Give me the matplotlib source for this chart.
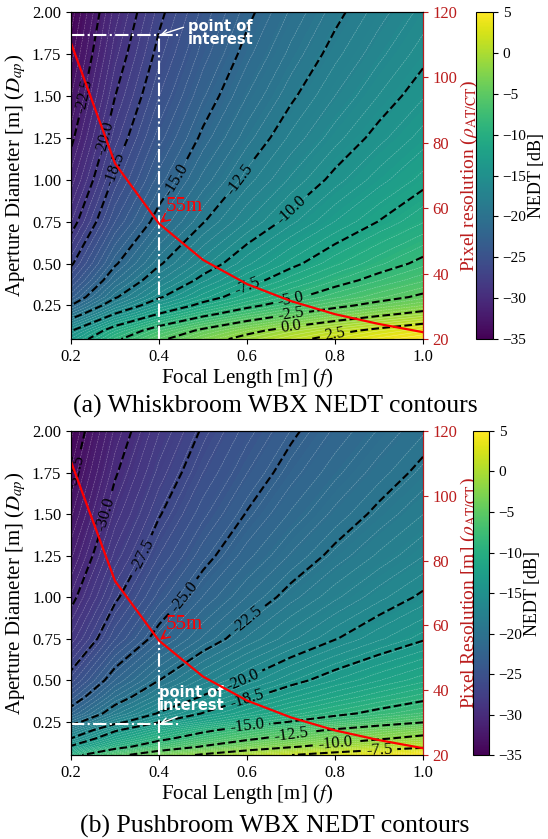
import numpy as np
import matplotlib
matplotlib.use("Agg")
import matplotlib.pyplot as plt
from matplotlib import cm, colors

plt.rcParams['font.family'] = 'Liberation Serif'
plt.rcParams['mathtext.fontset'] = 'stix'

############## Data ##############

focal = [0.2, 0.3, 0.4, 0.5, 0.6, 0.7, 0.8, 0.9, 1.0]
aperture = [0.05, 0.1, 0.15, 0.2, 0.25, 0.3, 0.4, 0.5, 0.75, 1.0, 1.25, 1.5, 1.75, 2.0]

# pixel resolution [m] along focal length
pix_res = [110.5, 73.7, 55.3, 44.2, 36.8, 31.6, 27.6, 24.6, 22.1]

# NEDT [dB]; rows follow aperture, columns follow focal
nedt_whisk = [
    [-8.88, -5.36, -2.86, -0.92, 0.66, 2.00, 3.16, 4.18, 5.10],
    [-10.08, -6.56, -4.06, -2.12, -0.54, 0.80, 1.96, 2.98, 3.90],
    [-11.78, -8.26, -5.76, -3.82, -2.24, -0.90, 0.26, 1.28, 2.20],
    [-13.48, -9.96, -7.46, -5.52, -3.94, -2.60, -1.44, -0.42, 0.50],
    [-14.98, -11.46, -8.96, -7.02, -5.44, -4.10, -2.94, -1.92, -1.00],
    [-16.18, -12.66, -10.16, -8.22, -6.64, -5.30, -4.14, -3.12, -2.20],
    [-17.58, -14.06, -11.56, -9.62, -8.04, -6.70, -5.54, -4.52, -3.60],
    [-18.68, -15.16, -12.66, -10.72, -9.14, -7.80, -6.64, -5.62, -4.70],
    [-20.53, -17.01, -14.51, -12.57, -10.99, -9.65, -8.49, -7.47, -6.55],
    [-21.78, -18.26, -15.76, -13.82, -12.24, -10.90, -9.74, -8.72, -7.80],
    [-22.75, -19.23, -16.73, -14.79, -13.21, -11.87, -10.71, -9.69, -8.77],
    [-23.54, -20.02, -17.52, -15.58, -14.00, -12.66, -11.50, -10.48, -9.56],
    [-24.21, -20.69, -18.19, -16.25, -14.67, -13.33, -12.17, -11.15, -10.23],
    [-24.79, -21.27, -18.77, -16.83, -15.25, -13.91, -12.75, -11.73, -10.81],
]

nedt_push = [
    [-15.68, -13.04, -11.17, -9.72, -8.53, -7.52, -6.65, -5.89, -5.20],
    [-18.33, -15.69, -13.82, -12.37, -11.18, -10.17, -9.30, -8.54, -7.85],
    [-19.99, -17.35, -15.48, -14.03, -12.84, -11.83, -10.96, -10.20, -9.51],
    [-21.34, -18.70, -16.83, -15.38, -14.19, -13.18, -12.31, -11.55, -10.86],
    [-23.11, -20.47, -18.60, -17.15, -15.96, -14.95, -14.08, -13.32, -12.63],
    [-24.40, -21.76, -19.89, -18.44, -17.25, -16.24, -15.37, -14.61, -13.92],
    [-25.85, -23.21, -21.34, -19.89, -18.70, -17.69, -16.82, -16.06, -15.37],
    [-27.02, -24.38, -22.51, -21.06, -19.87, -18.86, -17.99, -17.23, -16.54],
    [-29.08, -26.44, -24.57, -23.12, -21.93, -20.92, -20.05, -19.29, -18.60],
    [-30.33, -27.69, -25.82, -24.37, -23.18, -22.17, -21.30, -20.54, -19.85],
    [-31.30, -28.66, -26.79, -25.34, -24.15, -23.14, -22.27, -21.51, -20.82],
    [-32.09, -29.45, -27.58, -26.13, -24.94, -23.93, -23.06, -22.30, -21.61],
    [-32.76, -30.12, -28.25, -26.80, -25.61, -24.60, -23.73, -22.97, -22.28],
    [-33.34, -30.70, -28.83, -27.38, -26.19, -25.18, -24.31, -23.55, -22.86],
]

levels_whisk = [-22.5, -20.0, -18.5, -15.0, -12.5, -10.0, -7.5, -5.0, -2.5, 0.0, 2.5]
levels_push = [-32.5, -30.0, -27.5, -25.0, -22.5, -20.0, -18.5, -15.0, -12.5, -10.0, -7.5]

# where the inline labels sit (focal, aperture), one per level
labels_whisk = [(0.227, 1.55), (0.285, 1.33), (0.30, 1.07), (0.45, 1.05), (0.58, 1.04),
                (0.69, 0.84), (0.61, 0.37), (0.70, 0.29), (0.70, 0.20), (0.70, 0.12),
                (0.80, 0.08)]
labels_push = [(0.21, 1.88), (0.285, 1.56), (0.368, 1.32), (0.48, 1.06), (0.59, 0.84),
               (0.584, 0.50), (0.59, 0.38), (0.596, 0.23), (0.694, 0.175), (0.792, 0.115),
               (0.898, 0.08)]

RED = '#bb1d1d'

############## Plot ##############

def snap(cs, i, pos):
    """nearest vertex of level i to pos (in axis-fraction units)"""
    v = cs.get_paths()[i].vertices
    if len(v) == 0:
        return None
    dx = (v[:, 0] - pos[0]) / 0.8
    dy = (v[:, 1] - pos[1]) / 1.95
    k = np.argmin(dx**2 + dy**2)
    return (v[k, 0], v[k, 1])


def panel(fig, rect, crect, nedt, levels, lab_pos, right_label, poi_d, poi_text, poi_rel,
          vtop, caption, cap_y):
    ax = fig.add_axes(rect)
    F, D = np.meshgrid(focal, aperture)
    Z = np.array(nedt)
    ax.contourf(F, D, Z, levels=100, cmap='viridis')
    ax.contour(F, D, Z, levels=70, colors='white', linewidths=0.35, alpha=0.45)
    cs = ax.contour(F, D, Z, levels=levels, colors='k', linestyles='--', linewidths=1.5)
    ax.set_xlim(0.2, 1.0)
    ax.set_ylim(0.05, 2.0)
    ax.set_xticks([0.2, 0.4, 0.6, 0.8, 1.0])
    ax.set_yticks([0.25, 0.5, 0.75, 1.0, 1.25, 1.5, 1.75, 2.0])
    ax.tick_params(labelsize=12)
    ax.set_xlabel('Focal Length [m] ($f$)', fontsize=15, labelpad=1)
    ax.set_ylabel('Aperture Diameter [m] ($D_{ap}$)', fontsize=15, labelpad=3)
    spots = []
    for i, pos in enumerate(lab_pos):
        p = snap(cs, i, pos)
        if p is not None:
            spots.append(p)
    ax.clabel(cs, inline=True, fmt='%1.1f', fontsize=12, manual=spots)

    # point of interest
    ax.plot([0.2, 0.45], [poi_d, poi_d], color='white', ls='-.', lw=1.5)
    ax.plot([0.4, 0.4], [0.05, vtop], color='white', ls='-.', lw=1.5)
    ax.annotate('point of\ninterest', xy=(0.4, poi_d), xytext=poi_text,
                color='white', fontsize=10.5, fontweight='bold', family='DejaVu Sans',
                ha='left', va='center', linespacing=0.85,
                arrowprops=dict(arrowstyle='->', color='white', lw=1, relpos=poi_rel,
                                shrinkA=1, shrinkB=1))

    ax2 = ax.twinx()
    ax2.plot(focal, pix_res, color='red', lw=1.6)
    ax2.set_ylim(20, 120)
    ax2.set_yticks([20, 40, 60, 80, 100, 120])
    ax2.tick_params(labelsize=12, colors=RED)
    ax2.spines['right'].set_color(RED)
    ax2.set_ylabel(right_label, color=RED, fontsize=14, labelpad=1)
    ax2.annotate('55m', xy=(0.4, 55.3), xytext=(0.415, 57.5), color='red', fontsize=15,
                 ha='left', va='bottom',
                 arrowprops=dict(arrowstyle='->', color='red', lw=1, relpos=(0.2, 0.2),
                                 shrinkA=0, shrinkB=1))

    cax = fig.add_axes(crect)
    cb = fig.colorbar(cm.ScalarMappable(norm=colors.Normalize(-35, 5), cmap='viridis'),
                      cax=cax, ticks=[5, 0, -5, -10, -15, -20, -25, -30, -35])
    cb.ax.tick_params(labelsize=11)
    cb.set_label('NEDT [dB]', fontsize=13, labelpad=1)

    fig.text(0.502, cap_y, caption, ha='center', va='center', fontsize=18.5)


fig = plt.figure(figsize=(5.48, 8.39), dpi=100)

panel(fig, [0.1296, 0.5959, 0.6423, 0.3898], [0.8686, 0.5959, 0.031, 0.3898],
      nedt_whisk, levels_whisk, labels_whisk,
      'Pixel resolution ($\\rho_{\\mathrm{AT/CT}}$)', 1.861, (0.465, 1.875), (0.0, 0.75),
      1.861, '(a) Whiskbroom WBX NEDT contours', 0.515)

panel(fig, [0.1296, 0.1001, 0.6423, 0.3862], [0.8631, 0.1001, 0.0292, 0.3862],
      nedt_push, levels_push, labels_push,
      'Pixel Resolution [m] ($\\rho_{\\mathrm{AT/CT}}$)', 0.236, (0.4, 0.385), (0.4, 0.0),
      0.742, '(b) Pushbroom WBX NEDT contours', 0.0155)

fig.savefig('out.png', dpi=100)
